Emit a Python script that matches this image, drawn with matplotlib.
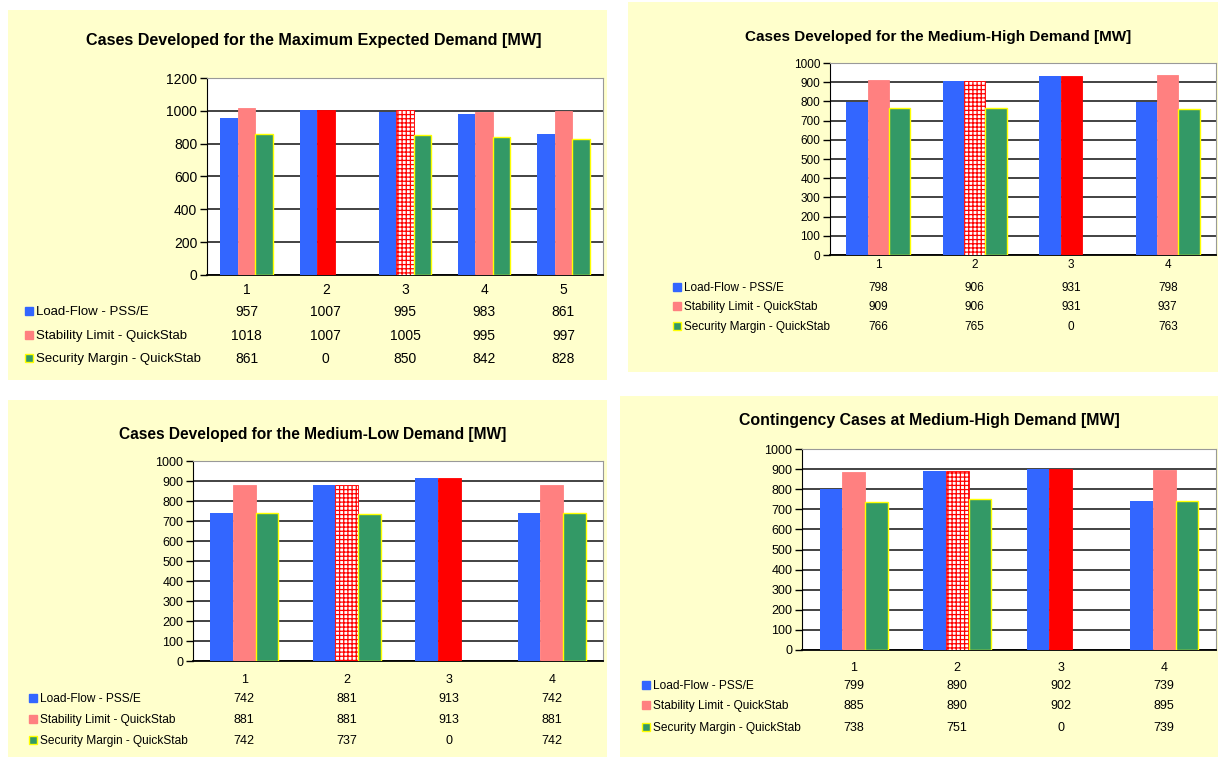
import matplotlib.pyplot as plt
import matplotlib.transforms as mtransforms
from matplotlib.patches import Rectangle
import numpy as np

plt.rcParams['font.family'] = ['Liberation Sans', 'DejaVu Sans']
plt.rcParams['hatch.linewidth'] = 0.9

# Data
series_names = ['Load-Flow - PSS/E', 'Stability Limit - QuickStab', 'Security Margin - QuickStab']

max_cases = ['1', '2', '3', '4', '5']
max_loadflow = [957, 1007, 995, 983, 861]
max_stability = [1018, 1007, 1005, 995, 997]
max_security = [861, 0, 850, 842, 828]

mh_cases = ['1', '2', '3', '4']
mh_loadflow = [798, 906, 931, 798]
mh_stability = [909, 906, 931, 937]
mh_security = [766, 765, 0, 763]

ml_cases = ['1', '2', '3', '4']
ml_loadflow = [742, 881, 913, 742]
ml_stability = [881, 881, 913, 881]
ml_security = [742, 737, 0, 742]

cont_cases = ['1', '2', '3', '4']
cont_loadflow = [799, 890, 902, 739]
cont_stability = [885, 890, 902, 895]
cont_security = [738, 751, 0, 739]

# how the stability bar of each case is filled
max_stab_fill = ['plain', 'red', 'hatch', 'plain', 'plain']
mh_stab_fill = ['plain', 'hatch', 'red', 'plain']
ml_stab_fill = ['plain', 'hatch', 'red', 'plain']
cont_stab_fill = ['plain', 'hatch', 'red', 'plain']

BLUE = '#3366FF'
PINK = '#FF8080'
GREEN = '#339966'
RED = '#FF0000'
BG = '#FFFFCC'

W, H = 1218, 757
fig = plt.figure(figsize=(W / 100, H / 100), dpi=100)
fig.patch.set_facecolor('white')


def fx(px):
    return px / W


def fy(py):
    return 1 - py / H


def draw_panel(title, cases, loadflow, stability, security, stab_fill, ymax, ystep,
               bg_box, ax_box, title_xy, cat_y, row_ys, legend_x, fs, leg_fs, title_fs):
    # yellow chart area
    bx0, by0, bx1, by1 = bg_box
    fig.add_artist(Rectangle((fx(bx0), fy(by1)), (bx1 - bx0) / W, (by1 - by0) / H,
                             transform=fig.transFigure, facecolor=BG, edgecolor='none', zorder=0))
    left, top, right, bottom = ax_box
    ax = fig.add_axes([fx(left), fy(bottom), (right - left) / W, (bottom - top) / H])
    ax.set_zorder(1)

    x = np.arange(1, len(cases) + 1)
    w = 0.22
    ax.bar(x - w, loadflow, w, color=BLUE, zorder=3)

    pink_cols = []
    hatches = []
    edges = []
    for f in stab_fill:
        if f == 'red':
            pink_cols.append(RED)
            hatches.append(None)
            edges.append(RED)
        elif f == 'hatch':
            pink_cols.append('white')
            hatches.append('++++')
            edges.append(RED)
        else:
            pink_cols.append(PINK)
            hatches.append(None)
            edges.append(PINK)
    bars = ax.bar(x, stability, w, color=pink_cols, zorder=3, linewidth=0.6)
    for b, h, e in zip(bars, hatches, edges):
        b.set_edgecolor(e)
        if h:
            b.set_hatch(h)

    gbars = ax.bar(x + w, security, w, color=GREEN, edgecolor='#FFFF00', linewidth=1.0, zorder=3)
    for b, v in zip(gbars, security):
        if v == 0:
            b.set_visible(False)

    ax.set_xlim(0.5, len(cases) + 0.5)
    ax.set_ylim(0, ymax)
    ax.set_yticks(np.arange(0, ymax + 1, ystep))
    ax.yaxis.grid(True, color='#222222', linewidth=1.2, zorder=1)
    ax.set_axisbelow(True)
    ax.set_xticks([])
    ax.tick_params(axis='y', length=5, width=1, labelsize=fs, pad=2, colors='black')
    for s in ['top', 'right']:
        ax.spines[s].set_color('#999999')
    ax.spines['left'].set_color('black')
    ax.spines['bottom'].set_color('black')
    ax.spines['bottom'].set_linewidth(1.3)

    fig.text(fx(title_xy[0]), fy(title_xy[1]), title, ha='center', va='center',
             fontsize=title_fs, fontweight='bold')

    tr = mtransforms.blended_transform_factory(ax.transData, fig.transFigure)
    for xi, c in zip(x, cases):
        fig.text(xi, fy(cat_y), c, transform=tr, ha='center', va='center', fontsize=fs)

    rows = [loadflow, stability, security]
    cols = [BLUE, PINK, GREEN]
    for vals, ry, name, col in zip(rows, row_ys, series_names, cols):
        for xi, v in zip(x, vals):
            fig.text(xi, fy(ry), str(v), transform=tr, ha='center', va='center', fontsize=fs)
        ec = '#FFFF00' if col == GREEN else col
        fig.add_artist(Rectangle((fx(legend_x), fy(ry + 3)), 8 / W, 8 / H,
                                 transform=fig.transFigure, facecolor=col, edgecolor=ec,
                                 linewidth=1.0, zorder=2))
        fig.text(fx(legend_x + 11), fy(ry), name, ha='left', va='center', fontsize=leg_fs)
    return ax


draw_panel('Cases Developed for the Maximum Expected Demand [MW]',
           max_cases, max_loadflow, max_stability, max_security, max_stab_fill,
           1200, 200, (8, 10, 607, 380), (207, 78, 603, 275), (314, 41), 290,
           (312, 336, 359), 25, 10, 9.5, 11.6)

draw_panel('Cases Developed for the Medium-High Demand [MW]',
           mh_cases, mh_loadflow, mh_stability, mh_security, mh_stab_fill,
           1000, 100, (628, 2, 1218, 372), (830, 63, 1216, 255), (938, 37), 265,
           (288, 307, 327), 673, 8.5, 8.5, 11)

draw_panel('Cases Developed for the Medium-Low Demand [MW]',
           ml_cases, ml_loadflow, ml_stability, ml_security, ml_stab_fill,
           1000, 100, (8, 400, 607, 757), (193, 461, 603, 661), (313, 435), 680,
           (699, 720, 741), 29, 9, 8.6, 11.2)

draw_panel('Contingency Cases at Medium-High Demand [MW]',
           cont_cases, cont_loadflow, cont_stability, cont_security, cont_stab_fill,
           1000, 100, (620, 396, 1218, 757), (802, 449, 1216, 650), (929, 421), 668,
           (686, 706, 728), 642, 9, 8.6, 11.4)

fig.savefig('out.png', dpi=100, facecolor='white')
